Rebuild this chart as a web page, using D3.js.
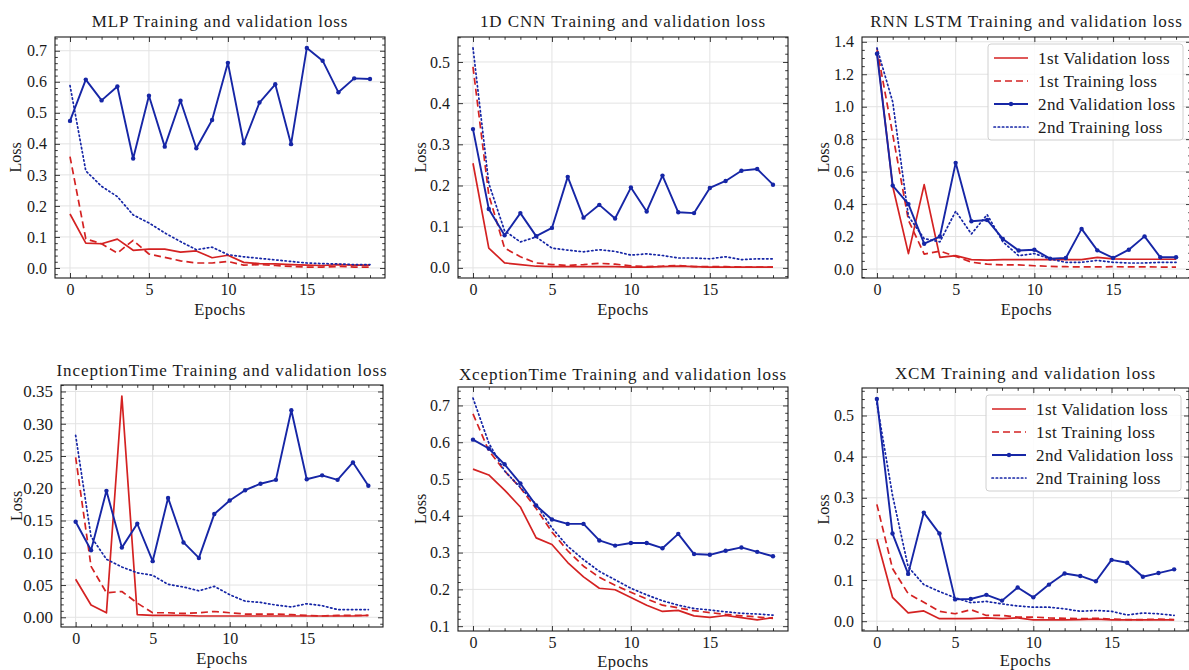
<!DOCTYPE html>
<html>
<head>
<meta charset="utf-8">
<script src="https://cdn.jsdelivr.net/npm/d3@7"></script>
<style>
  html, body { margin: 0; padding: 0; background: #fff; }
  svg { display: block; }
  text { font-family: "Liberation Serif", "DejaVu Serif", serif; fill: #1a1a1a; }
</style>
</head>
<body>
<svg id="chart" width="1189" height="670"></svg>
<script>
// ---------------- DATA ----------------
const epochs = [0,1,2,3,4,5,6,7,8,9,10,11,12,13,14,15,16,17,18,19];
const xTicks = [0, 5, 10, 15];
const seriesNames = ["1st Validation loss", "1st Training loss", "2nd Validation loss", "2nd Training loss"];
const titles = [
  "MLP Training and validation loss",
  "1D CNN Training and validation loss",
  "RNN LSTM Training and validation loss",
  "InceptionTime Training and validation loss",
  "XceptionTime Training and validation loss",
  "XCM Training and validation loss"
];

// MLP
const mlpVal1   = [0.174,0.080,0.078,0.093,0.057,0.061,0.061,0.051,0.055,0.033,0.041,0.018,0.014,0.013,0.011,0.009,0.008,0.011,0.009,0.009];
const mlpTrain1 = [0.359,0.094,0.078,0.048,0.089,0.045,0.034,0.023,0.016,0.016,0.021,0.009,0.011,0.008,0.005,0.003,0.003,0.005,0.003,0.003];
const mlpVal2   = [0.474,0.607,0.540,0.585,0.353,0.555,0.391,0.539,0.386,0.477,0.661,0.402,0.533,0.592,0.399,0.709,0.668,0.566,0.611,0.609];
const mlpTrain2 = [0.588,0.313,0.263,0.230,0.171,0.145,0.113,0.085,0.059,0.067,0.043,0.036,0.031,0.026,0.021,0.016,0.014,0.013,0.011,0.011];
const mlpYTicks = [0.0,0.1,0.2,0.3,0.4,0.5,0.6,0.7];

// 1D CNN
const cnnVal1   = [0.254,0.048,0.012,0.008,0.004,0.003,0.003,0.003,0.003,0.003,0.002,0.002,0.003,0.004,0.003,0.002,0.002,0.002,0.002,0.002];
const cnnTrain1 = [0.488,0.177,0.048,0.027,0.012,0.008,0.006,0.008,0.011,0.009,0.005,0.003,0.004,0.006,0.003,0.003,0.003,0.002,0.002,0.002];
const cnnVal2   = [0.337,0.143,0.079,0.133,0.077,0.097,0.221,0.122,0.153,0.120,0.195,0.137,0.224,0.135,0.133,0.194,0.211,0.236,0.240,0.202];
const cnnTrain2 = [0.534,0.205,0.090,0.063,0.075,0.048,0.043,0.039,0.044,0.040,0.031,0.034,0.030,0.024,0.024,0.022,0.027,0.020,0.022,0.022];
const cnnYTicks = [0.0,0.1,0.2,0.3,0.4,0.5];

// RNN LSTM
const rnnVal1   = [1.342,0.510,0.095,0.520,0.072,0.082,0.058,0.055,0.058,0.058,0.058,0.058,0.058,0.058,0.072,0.062,0.060,0.060,0.060,0.060];
const rnnTrain1 = [1.360,0.830,0.300,0.092,0.110,0.078,0.042,0.030,0.025,0.025,0.020,0.016,0.014,0.013,0.013,0.014,0.013,0.013,0.012,0.012];
const rnnVal2   = [1.326,0.514,0.400,0.156,0.200,0.654,0.294,0.302,0.185,0.114,0.119,0.064,0.068,0.247,0.115,0.068,0.119,0.201,0.072,0.072];
const rnnTrain2 = [1.362,1.030,0.325,0.187,0.167,0.356,0.216,0.335,0.167,0.082,0.095,0.062,0.041,0.041,0.053,0.041,0.037,0.037,0.041,0.041];
const rnnYTicks = [0.0,0.2,0.4,0.6,0.8,1.0,1.2,1.4];

// InceptionTime
const incVal1   = [0.059,0.019,0.007,0.343,0.004,0.003,0.003,0.003,0.002,0.002,0.002,0.002,0.002,0.002,0.002,0.002,0.002,0.002,0.002,0.003];
const incTrain1 = [0.248,0.079,0.038,0.040,0.022,0.007,0.007,0.006,0.007,0.009,0.007,0.005,0.005,0.005,0.004,0.003,0.002,0.003,0.003,0.003];
const incVal2   = [0.148,0.104,0.196,0.108,0.145,0.087,0.185,0.116,0.092,0.160,0.181,0.197,0.207,0.213,0.321,0.214,0.220,0.213,0.240,0.204];
const incTrain2 = [0.282,0.125,0.090,0.078,0.069,0.065,0.051,0.047,0.041,0.048,0.035,0.025,0.023,0.019,0.016,0.021,0.018,0.012,0.012,0.012];
const incYTicks = [0.00,0.05,0.10,0.15,0.20,0.25,0.30,0.35];

// XceptionTime
const xcpVal1   = [0.527,0.511,0.470,0.424,0.340,0.322,0.273,0.234,0.203,0.199,0.178,0.157,0.140,0.143,0.128,0.124,0.129,0.123,0.117,0.123];
const xcpTrain1 = [0.677,0.577,0.522,0.476,0.420,0.356,0.305,0.263,0.233,0.211,0.192,0.174,0.157,0.150,0.142,0.137,0.132,0.128,0.125,0.121];
const xcpVal2   = [0.607,0.583,0.540,0.488,0.428,0.390,0.378,0.378,0.333,0.319,0.326,0.326,0.312,0.351,0.296,0.294,0.305,0.314,0.302,0.290];
const xcpTrain2 = [0.720,0.598,0.522,0.477,0.431,0.367,0.317,0.281,0.249,0.226,0.203,0.185,0.169,0.157,0.148,0.144,0.139,0.135,0.133,0.130];
const xcpYTicks = [0.1,0.2,0.3,0.4,0.5,0.6,0.7];

// XCM
const xcmVal1   = [0.199,0.058,0.020,0.025,0.006,0.006,0.006,0.008,0.006,0.008,0.003,0.003,0.003,0.004,0.005,0.003,0.003,0.003,0.003,0.003];
const xcmTrain1 = [0.284,0.128,0.067,0.046,0.024,0.018,0.028,0.014,0.014,0.010,0.010,0.008,0.007,0.006,0.007,0.005,0.004,0.004,0.005,0.004];
const xcmVal2   = [0.540,0.213,0.115,0.264,0.213,0.053,0.054,0.064,0.050,0.082,0.058,0.089,0.116,0.110,0.097,0.149,0.142,0.108,0.117,0.126];
const xcmTrain2 = [0.530,0.306,0.132,0.089,0.072,0.057,0.045,0.048,0.042,0.037,0.034,0.034,0.030,0.024,0.026,0.024,0.015,0.020,0.018,0.014];
const xcmYTicks = [0.0,0.1,0.2,0.3,0.4,0.5];

// ---------------- LAYOUT / STYLE ----------------
const RED = "#d42222", BLUE = "#1626a6";
const panels = [
  {title: titles[0], s: [mlpVal1, mlpTrain1, mlpVal2, mlpTrain2], yTicks: mlpYTicks, fmt: ".1f", minorN: 5,
   l: 55, r: 385, t: 37, b: 278, titleY: 27, xlabY: 315, ylabX: 15, legend: false},
  {title: titles[1], s: [cnnVal1, cnnTrain1, cnnVal2, cnnTrain2], yTicks: cnnYTicks, fmt: ".1f", minorN: 5,
   l: 458, r: 788, t: 37, b: 278, titleY: 27, xlabY: 315, ylabX: 420, legend: false},
  {title: titles[2], s: [rnnVal1, rnnTrain1, rnnVal2, rnnTrain2], yTicks: rnnYTicks, fmt: ".1f", minorN: 4,
   l: 862, r: 1191, t: 37, b: 278, titleY: 27, xlabY: 315, ylabX: 823, legend: true},
  {title: titles[3], s: [incVal1, incTrain1, incVal2, incTrain2], yTicks: incYTicks, fmt: ".2f", minorN: 5,
   l: 61, r: 383, t: 385, b: 627, titleY: 376, xlabY: 664, ylabX: 16, legend: false},
  {title: titles[4], s: [xcpVal1, xcpTrain1, xcpVal2, xcpTrain2], yTicks: xcpYTicks, fmt: ".1f", minorN: 5,
   l: 458, r: 788, t: 387, b: 631, titleY: 380, xlabY: 667, ylabX: 420, legend: false},
  {title: titles[5], s: [xcmVal1, xcmTrain1, xcmVal2, xcmTrain2], yTicks: xcmYTicks, fmt: ".1f", minorN: 5,
   l: 862, r: 1189, t: 388, b: 631, titleY: 379, xlabY: 666, ylabX: 823, legend: true}
];
const styles = [
  {color: RED,  dash: null,      marker: false, w: 1.7, dot: false},
  {color: RED,  dash: "7,4",     marker: false, w: 1.7, dot: false},
  {color: BLUE, dash: null,      marker: true,  w: 1.9, dot: false},
  {color: BLUE, dash: "1.4,2.8", marker: false, w: 1.7, dot: true}
];

const svg = d3.select("#chart");

panels.forEach((p, pi) => {
  const g = svg.append("g");
  const x = d3.scaleLinear().domain([-0.95, 19.95]).range([p.l, p.r]);
  const all = p.s.flat();
  const mn = d3.min(all), mx = d3.max(all), pad = (mx - mn) * 0.05;
  const y = d3.scaleLinear().domain([mn - pad, mx + pad]).range([p.b, p.t]);

  // clip
  const cid = "clip" + pi;
  svg.append("clipPath").attr("id", cid).append("rect")
    .attr("x", p.l).attr("y", p.t).attr("width", p.r - p.l).attr("height", p.b - p.t);

  // grid
  const grid = g.append("g").attr("clip-path", `url(#${cid})`);
  grid.selectAll(".gx").data(xTicks).join("line")
    .attr("x1", d => x(d)).attr("x2", d => x(d)).attr("y1", p.t).attr("y2", p.b)
    .attr("stroke", "#e3e3e3").attr("stroke-width", 1);
  grid.selectAll(".gy").data(p.yTicks).join("line")
    .attr("x1", p.l).attr("x2", p.r).attr("y1", d => y(d)).attr("y2", d => y(d))
    .attr("stroke", "#e3e3e3").attr("stroke-width", 1);

  // minor ticks
  const xMinor = d3.range(0, 20).filter(v => !xTicks.includes(v));
  const yStep = p.yTicks[1] - p.yTicks[0];
  const yMinor = [];
  const [d0, d1] = y.domain();
  for (let k = Math.ceil(d0 / (yStep / p.minorN)); k * yStep / p.minorN <= d1; k++) {
    const v = k * yStep / p.minorN;
    if (Math.abs(Math.round(k / p.minorN) - k / p.minorN) > 1e-6) yMinor.push(v);
  }

  const axG = g.append("g");
  const mk = (axis, tx, ty) => {
    const a = axG.append("g").attr("transform", `translate(${tx},${ty})`).call(axis);
    a.select(".domain").remove();
    a.selectAll(".tick line").attr("stroke", "#222").attr("stroke-width", 0.9);
    return a;
  };
  const majLen = 5, minLen = 2.8;
  const fmt = d3.format(p.fmt);
  const bx = mk(d3.axisBottom(x).tickValues(xTicks).tickSize(-majLen).tickPadding(6).tickFormat(d3.format("d")), 0, p.b);
  bx.selectAll("text").style("font-size", "16px").attr("fill", "#1a1a1a");
  mk(d3.axisBottom(x).tickValues(xMinor).tickSize(-minLen).tickFormat(""), 0, p.b);
  mk(d3.axisTop(x).tickValues(xTicks).tickSize(-majLen).tickFormat(""), 0, p.t);
  mk(d3.axisTop(x).tickValues(xMinor).tickSize(-minLen).tickFormat(""), 0, p.t);
  const ly = mk(d3.axisLeft(y).tickValues(p.yTicks).tickSize(-majLen).tickPadding(8).tickFormat(fmt), p.l, 0);
  ly.selectAll("text").style("font-size", pi === 3 ? "17px" : "16px").attr("fill", "#1a1a1a");
  mk(d3.axisLeft(y).tickValues(yMinor).tickSize(-minLen).tickFormat(""), p.l, 0);
  mk(d3.axisRight(y).tickValues(p.yTicks).tickSize(-majLen).tickFormat(""), p.r, 0);
  mk(d3.axisRight(y).tickValues(yMinor).tickSize(-minLen).tickFormat(""), p.r, 0);

  // lines
  const lineGen = d3.line().x((d, i) => x(epochs[i])).y(d => y(d));
  const plotG = g.append("g").attr("clip-path", `url(#${cid})`);
  p.s.forEach((arr, si) => {
    const st = styles[si];
    plotG.append("path").datum(arr)
      .attr("d", lineGen)
      .attr("fill", "none")
      .attr("stroke", st.color)
      .attr("stroke-width", st.w)
      .attr("stroke-linejoin", "round")
      .attr("stroke-linecap", st.dot ? "round" : "butt")
      .attr("stroke-dasharray", st.dash);
    if (st.marker) {
      plotG.selectAll(null).data(arr).join("circle")
        .attr("cx", (d, i) => x(epochs[i])).attr("cy", d => y(d))
        .attr("r", 2.2).attr("fill", st.color);
    }
  });

  // frame
  g.append("rect").attr("x", p.l).attr("y", p.t).attr("width", p.r - p.l).attr("height", p.b - p.t)
    .attr("fill", "none").attr("stroke", "#1a1a1a").attr("stroke-width", 1.1);

  // title & labels
  g.append("text").attr("x", (p.l + p.r) / 2).attr("y", p.titleY)
    .attr("text-anchor", "middle").style("font-size", "17px").style("letter-spacing", "0.9px").text(p.title);
  g.append("text").attr("x", (p.l + p.r) / 2).attr("y", p.xlabY)
    .attr("text-anchor", "middle").style("font-size", "16.5px").style("letter-spacing", "0.5px").text("Epochs");
  g.append("text").attr("transform", `translate(${p.ylabX},${(p.t + p.b) / 2}) rotate(-90)`)
    .attr("text-anchor", "middle").attr("dominant-baseline", "central")
    .style("font-size", "16px").text("Loss");

  // legend
  if (p.legend) {
    const lgX = p.r - 203, lgY = p.t + 7, lgW = 195, lgH = 96;
    const lg = g.append("g");
    lg.append("rect").attr("x", lgX).attr("y", lgY).attr("width", lgW).attr("height", lgH)
      .attr("rx", 3).attr("fill", "#fff").attr("fill-opacity", 0.85)
      .attr("stroke", "#d0d0d0").attr("stroke-width", 1);
    seriesNames.forEach((name, si) => {
      const st = styles[si];
      const cy = lgY + 14 + si * 23;
      lg.append("line").attr("x1", lgX + 6).attr("x2", lgX + 40).attr("y1", cy).attr("y2", cy)
        .attr("stroke", st.color).attr("stroke-width", st.w)
        .attr("stroke-linecap", st.dot ? "round" : "butt")
        .attr("stroke-dasharray", st.dash);
      if (st.marker) lg.append("circle").attr("cx", lgX + 23).attr("cy", cy).attr("r", 2.2).attr("fill", st.color);
      lg.append("text").attr("x", lgX + 50).attr("y", cy).attr("dominant-baseline", "central")
        .style("font-size", "17px").style("letter-spacing", "0.4px").text(name);
    });
  }
});
</script>
</body>
</html>
